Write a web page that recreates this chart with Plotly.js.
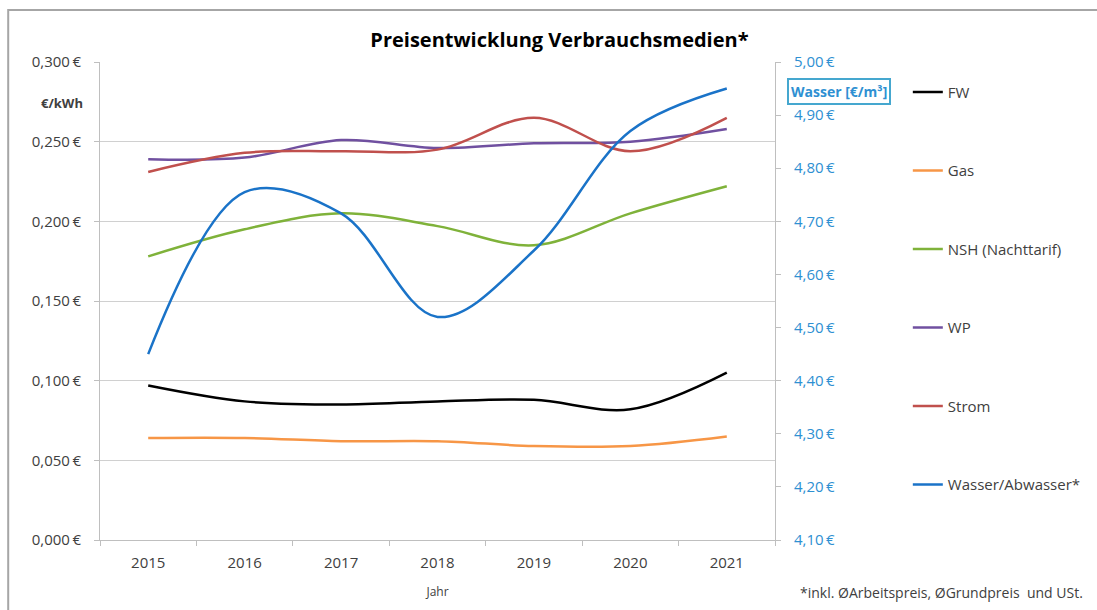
<!DOCTYPE html>
<html>
<head>
<meta charset="utf-8">
<script src="https://cdn.plot.ly/plotly-3.0.1.min.js"></script>
<style>html,body{margin:0;padding:0;background:#fff;}#chart{width:1097px;height:610px;}</style>
</head>
<body>
<div id="chart"></div>
<script>
const years = ["2015", "2016", "2017", "2018", "2019", "2020", "2021"];
const fw = [0.097, 0.087, 0.085, 0.087, 0.088, 0.082, 0.105];
const gas = [0.064, 0.064, 0.062, 0.062, 0.059, 0.059, 0.065];
const nsh = [0.178, 0.195, 0.205, 0.197, 0.185, 0.205, 0.222];
const wp = [0.239, 0.240, 0.251, 0.246, 0.249, 0.250, 0.258];
const strom = [0.231, 0.243, 0.244, 0.245, 0.265, 0.244, 0.265];
const wasser = [4.45, 4.755, 4.715, 4.52, 4.645, 4.87, 4.95];

const names = ["FW", "Gas", "NSH (Nachttarif)", "WP", "Strom", "Wasser/Abwasser*"];
const colors = ["#000000", "#f79646", "#7fb23a", "#7050a0", "#c0504d", "#1a73c8"];
const series = [fw, gas, nsh, wp, strom, wasser];

const font = "Open Sans, Noto Sans, sans-serif";
const traces = series.map((s, i) => ({
  x: years, y: s, name: names[i], type: "scatter", mode: "lines",
  yaxis: i === 5 ? "y2" : "y",
  legendgroup: "g" + i,
  line: {color: colors[i], width: 2.5, shape: "spline", smoothing: 1},
  hoverinfo: "x+y+name"
}));

const layout = {
  width: 1097, height: 610,
  margin: {l: 100, r: 321, t: 62, b: 70},
  paper_bgcolor: "#ffffff", plot_bgcolor: "#ffffff",
  separators: ",.",
  font: {family: font, size: 15, color: "#404040"},
  title: {text: "<b>Preisentwicklung Verbrauchsmedien*</b>", x: 0.51, xref: "container", xanchor: "center", y: 0.934, yref: "container", yanchor: "middle", font: {size: 20, color: "#000000", family: font}},
  xaxis: {
    type: "category", range: [-0.5, 6.5], showgrid: false, showline: true, linecolor: "#bfbfbf", linewidth: 1,
    ticks: "outside", tickson: "boundaries", ticklen: 5, tickcolor: "#bfbfbf",
    ticklabelstandoff: 9,
    tickfont: {size: 15, color: "#404040"},
    title: {text: "Jahr", font: {size: 12, color: "#404040"}, standoff: 16}
  },
  yaxis: {
    range: [0, 0.3], dtick: 0.05, tickformat: ".3f", ticksuffix: "\u2009€",
    showgrid: true, gridcolor: "#d0d0d0", gridwidth: 1, zeroline: false,
    showline: true, linecolor: "#bfbfbf", ticks: "outside", ticklen: 5, tickcolor: "#bfbfbf",
    ticklabelstandoff: 10,
    tickfont: {size: 15, color: "#404040"}
  },
  yaxis2: {
    overlaying: "y", side: "right", range: [4.10, 5.00], dtick: 0.1, tickformat: ".2f", ticksuffix: "\u2009€",
    showgrid: false, zeroline: false, showline: true, linecolor: "#bfbfbf",
    ticks: "outside", ticklen: 5, tickcolor: "#bfbfbf",
    ticklabelstandoff: 10,
    tickfont: {size: 15, color: "#2e90d2"}
  },
  showlegend: true,
  legend: {
    x: 1.195, xanchor: "left", y: 0.971, yanchor: "top",
    traceorder: "grouped", tracegroupgap: 56, itemwidth: 30,
    font: {size: 15, color: "#404040"}, bgcolor: "rgba(0,0,0,0)"
  },
  annotations: [
    {text: "<b>€/kWh</b>", xref: "paper", yref: "paper", x: -0.056, y: 0.914, xanchor: "center", yanchor: "middle", showarrow: false, font: {size: 13, color: "#404040"}},
    {text: "<b>Wasser [€/m³]</b>", xref: "paper", yref: "paper", x: 1.095, y: 0.939, xanchor: "center", yanchor: "middle", showarrow: false,
     font: {size: 14, color: "#2e90d2"}, bordercolor: "#45a7cf", borderwidth: 2, borderpad: 2, bgcolor: "#ffffff"},
    {text: "*inkl. ØArbeitspreis, ØGrundpreis  und USt.", xref: "paper", yref: "paper", x: 1.459, xanchor: "right", y: -0.11, yanchor: "middle", showarrow: false, font: {size: 14, color: "#404040"}}
  ],
  shapes: [
    {type: "rect", xref: "paper", yref: "paper", x0: -0.136, x1: 1.49, y0: -0.16, y1: 1.109, line: {color: "#a6a6a6", width: 2}, fillcolor: "rgba(0,0,0,0)", layer: "below"}
  ]
};

Plotly.newPlot("chart", traces, layout, {displayModeBar: false, responsive: false});
</script>
</body>
</html>
